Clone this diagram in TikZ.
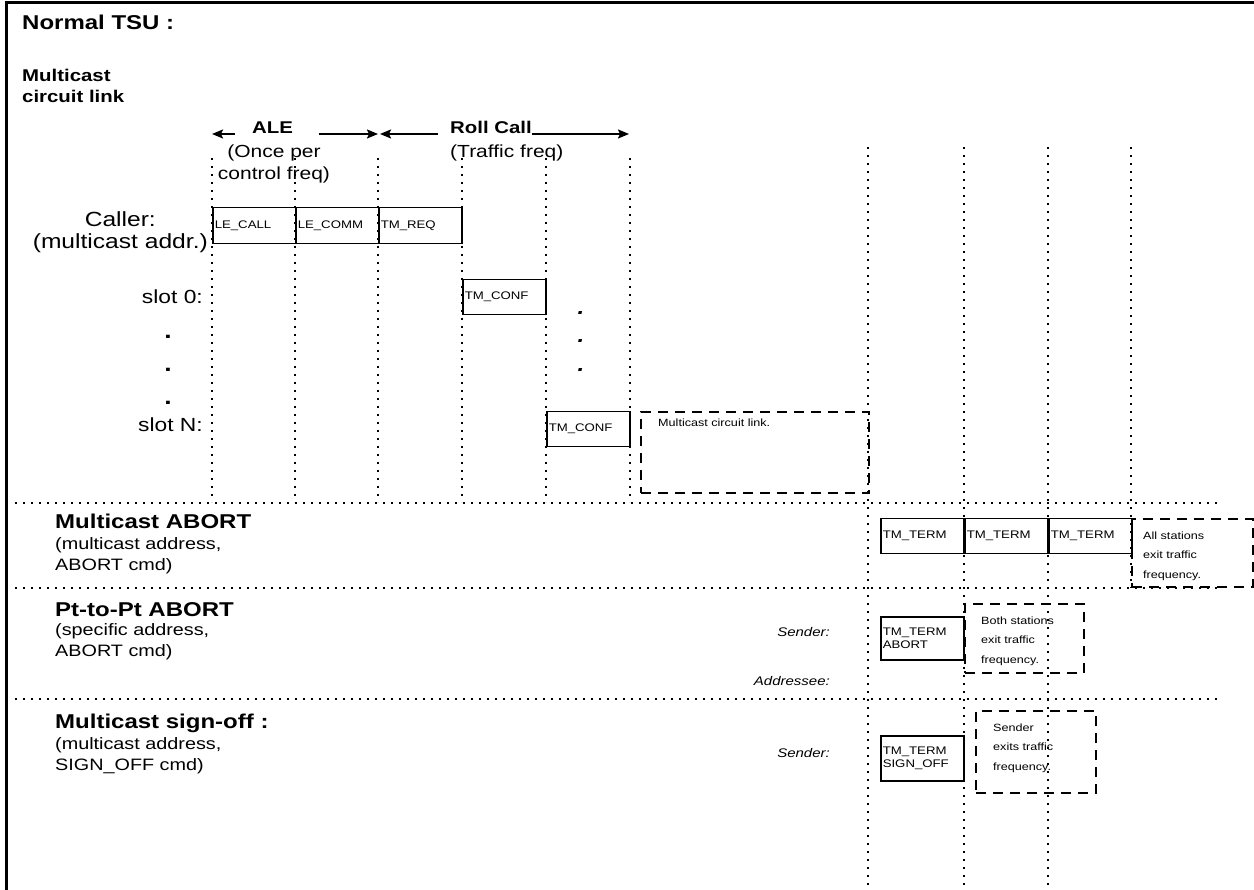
\documentclass[tikz,border=0pt]{standalone}
\usepackage{fontspec}
\setmainfont[FakeStretch=1.2]{Liberation Sans}
\usetikzlibrary{arrows.meta}

\begin{document}
\begin{tikzpicture}[x=1pt,y=-1pt,
	gridline/.style={line width=2pt, dash pattern=on 2pt off 6pt},
	msgbox/.style={draw, line width=1.5pt, anchor=north west, inner xsep=2pt, inner ysep=1pt, text width=79pt, align=left, font=\fontsize{11}{13}\selectfont},
	notebox/.style={draw, line width=2pt, dash pattern=on 10pt off 7pt, anchor=north west},
	notetext/.style={anchor=west, align=left, inner sep=0pt, font=\fontsize{10.5}{19.5}\selectfont},
	sechdr/.style={anchor=west, inner sep=0pt, font=\fontsize{20}{24}\selectfont\bfseries},
	secsub/.style={anchor=west, inner sep=0pt, align=left, font=\fontsize{16.5}{21}\selectfont},
	role/.style={anchor=east, inner sep=0pt, font=\fontsize{12.5}{15}\selectfont\itshape},
	arr/.style={-{Stealth[length=11pt,width=9pt,inset=2pt]}, line width=1.8pt}]
	
	\useasboundingbox (0,0) rectangle (1254,890);
	
	% Frame
	\draw[line width=3pt] (6,890) -- (6,3) -- (1254,3);
	
	% Time grid
	\foreach \x in {212,295,378,462,546,630}
		\draw[gridline] (\x,158) -- (\x,502);
	\foreach \x in {868,964,1048}
		\draw[gridline] (\x,147) -- (\x,890);
	\draw[gridline] (1131,147) -- (1131,588);
	\foreach \y in {503,588,699}
		\draw[gridline] (15,\y) -- (1217,\y);
	
	% Titles
	\node[anchor=west, inner sep=0pt, font=\fontsize{20}{24}\selectfont\bfseries] (title) at (22,22) {Normal TSU :};
	\node[anchor=west, inner sep=0pt, align=left, font=\fontsize{17}{21}\selectfont\bfseries] (kind) at (22,86) {Multicast\\circuit link};
	
	% Phase arrows
	\coordinate (aleL) at (212,134);
	\coordinate (aleR) at (378,134);
	\coordinate (rcR) at (629,134);
	\node[anchor=base west, inner sep=0pt, font=\fontsize{17}{20}\selectfont\bfseries] (ale) at (252,134) {ALE};
	\node[anchor=base west, inner sep=0pt, font=\fontsize{17}{20}\selectfont\bfseries] (roll) at (450,134) {Roll Call};
	\draw[arr] ([xshift=-17pt]ale.base west) -- (aleL);
	\draw[arr] ([xshift=26pt]ale.base east) -- (aleR);
	\draw[arr] ([xshift=-12pt]roll.base west) -- ([xshift=2pt]aleR);
	\draw[arr] (roll.base east) -- (rcR);
	\node[inner sep=0pt, align=center, font=\fontsize{17.5}{21.5}\selectfont] (alefreq) at (274,164) {(Once per\\control freq)};
	\node[anchor=west, inner sep=0pt, font=\fontsize{17.5}{21.5}\selectfont] (rcfreq) at (450,153) {(Traffic freq)};
	
	% Stations
	\node[anchor=east, inner sep=0pt, align=center, font=\fontsize{20.5}{22}\selectfont] (caller) at (208,232) {Caller:\\(multicast addr.)};
	\node[anchor=east, inner sep=0pt, font=\fontsize{19}{22}\selectfont] (slot0) at (203,297) {slot 0:};
	\node[anchor=east, inner sep=0pt, font=\fontsize{19}{22}\selectfont] (slotN) at (203,425) {slot N:};
	\foreach \y [count=\i] in {337,370,403}
		\node[inner sep=0pt, font=\fontsize{22}{22}\selectfont\bfseries] (ldot\i) at (168,\y) {.};
	\foreach \y [count=\i] in {313,341,370}
		\node[inner sep=0pt, font=\fontsize{20}{20}\selectfont\bfseries\itshape] (cdot\i) at (581,\y) {.};
	
	% Multicast circuit link
	\node[msgbox, minimum height=36pt] (lecall) at (212,207) {LE\_CALL};
	\node[msgbox, minimum height=36pt] (lecomm) at (295,207) {LE\_COMM};
	\node[msgbox, minimum height=36pt] (tmreq) at (378,207) {TM\_REQ};
	\node[msgbox, minimum height=35pt] (conf0) at (462,279) {TM\_CONF};
	\node[msgbox, minimum height=35pt] (confN) at (546,411) {TM\_CONF};
	\node[notebox, minimum width=228pt, minimum height=81pt] (mclbox) at (640,411) {};
	\node[notetext] (mcltext) at (658,423) {Multicast circuit link.};
	
	% Multicast ABORT
	\node[sechdr] (mabort) at (55,521) {Multicast ABORT};
	\node[secsub] (maborts) at (55,556) {(multicast address,\\ABORT cmd)};
	\node[msgbox, minimum height=35pt] (term1) at (880,518) {TM\_TERM};
	\node[msgbox, minimum height=35pt] (term2) at (964,518) {TM\_TERM};
	\node[msgbox, minimum height=35pt] (term3) at (1048,518) {TM\_TERM};
	\node[notebox, minimum width=121pt, minimum height=68pt] (allbox) at (1131,518) {};
	\node[notetext] (alltext) at (1143,556) {All stations\\exit traffic\\frequency.};
	
	% Pt-to-Pt ABORT
	\node[sechdr] (pabort) at (55,610) {Pt-to-Pt ABORT};
	\node[secsub] (paborts) at (55,642) {(specific address,\\ABORT cmd)};
	\node[role] (sender1) at (830,632) {Sender:};
	\node[role] (addressee) at (830,681) {Addressee:};
	\node[msgbox, minimum height=43pt, font=\fontsize{11}{12.5}\selectfont] (termab) at (880,616) {TM\_TERM\\ABORT};
	\node[notebox, minimum width=119pt, minimum height=69pt] (bothbox) at (964,603) {};
	\node[notetext] (bothtext) at (981,641) {Both stations\\exit traffic\\frequency.};
	
	% Multicast sign-off
	\node[sechdr] (msign) at (55,723) {Multicast sign-off :};
	\node[secsub] (msigns) at (55,756) {(multicast address,\\SIGN\_OFF cmd)};
	\node[role] (sender2) at (830,753) {Sender:};
	\node[msgbox, minimum height=45pt, font=\fontsize{11}{12.5}\selectfont] (termso) at (880,735) {TM\_TERM\\SIGN\_OFF};
	\node[notebox, minimum width=120pt, minimum height=82pt] (sndbox) at (975,710) {};
	\node[notetext] (sndtext) at (993,748) {Sender\\exits traffic\\frequency.};
\end{tikzpicture}
\end{document}
